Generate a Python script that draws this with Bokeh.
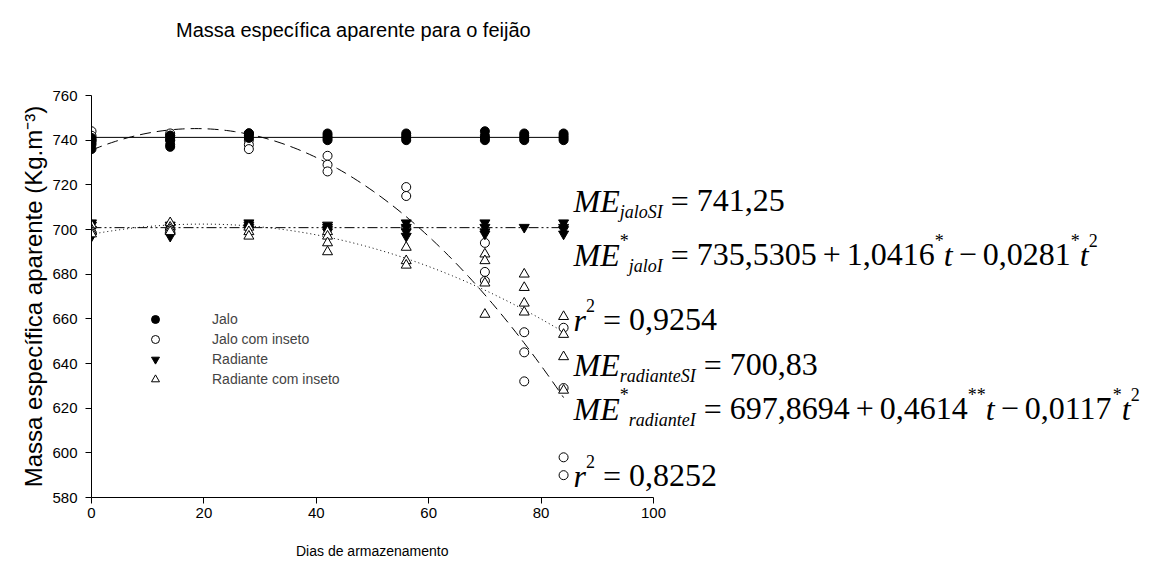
import numpy as np
from bokeh.plotting import figure
from bokeh.layouts import column
from bokeh.models import Range1d, FixedTicker, Legend, LegendItem, ColumnDataSource, Div
from bokeh.embed import file_html
from bokeh.resources import INLINE
from bokeh.core.properties import value

# ---------------- data ----------------
days = [0, 14, 28, 42, 56, 70, 77, 84]

jalo_vals = [[736, 738, 740, 741], [737, 738, 740, 742], [741, 742, 743, 743],
             [740, 741, 742, 743], [740, 741, 742, 743], [740, 741, 742, 744],
             [740, 741, 742, 743], [740, 741, 742, 743]]
jalo_ins_vals = [[744, 742, 740, 739], [743, 742, 741, 740], [743, 740, 738, 736],
                 [733, 729, 726], [719, 715, 701], [694, 681, 677],
                 [654, 645, 632], [656, 629, 598, 590]]
rad_vals = [[703, 702, 700, 697], [702, 701, 699, 697], [703, 702, 701, 700],
            [702, 701, 700, 699], [703, 701, 699, 697], [703, 701, 699, 698],
            [701], [703, 701, 700, 698]]
rad_ins_vals = [[702, 700, 699, 698], [703, 701, 700, 699], [701, 699, 697],
                [699, 697, 694, 690], [692, 686, 684], [689, 686, 676, 662],
                [680, 674, 667, 663], [661, 653, 643, 628]]

# fitted models (as printed on the chart)
jalo_mean = 741.25
jalo_ins_coef = [735.5305, 1.0416, -0.0281]
rad_mean = 700.83
rad_ins_coef = [697.8694, 0.4614, -0.0117]
fit_range = [0, 84]

x_ticks = [0, 20, 40, 60, 80, 100]
y_ticks = [580, 600, 620, 640, 660, 680, 700, 720, 740, 760]

title_text = "Massa específica aparente para o feijão"
x_label = "Dias de armazenamento"
y_label = "Massa específica aparente (Kg.m\u207b\u00b3)"
legend_labels = ["Jalo", "Jalo com inseto", "Radiante", "Radiante com inseto"]


def flat(vals):
    xs, ys = [], []
    for d, vs in zip(days, vals):
        for v in vs:
            xs.append(d)
            ys.append(v)
    return xs, ys


# ---------------- geometry ----------------
W = 1151
TOP_H, BOT_H = 50, 30
PH = 563 - TOP_H - BOT_H          # figure height
FL, FR = 91, 1150
FT, FB = 95 - TOP_H, 497 - TOP_H   # frame edges inside the figure
PXX = 562 / 100.0
x_end = (FR - FL) / PXX

p = figure(width=W, height=PH, x_range=Range1d(0, x_end), y_range=Range1d(580, 760),
           output_backend="svg", toolbar_location=None,
           min_border_left=FL, min_border_right=W - FR, min_border_top=FT,
           min_border_bottom=PH - FB)
p.outline_line_color = None
p.grid.visible = False
p.background_fill_color = "white"
p.border_fill_color = "white"

FONT = "'Liberation Sans', Arial, sans-serif"
title_div = Div(text=(f'<div style="margin-left:176px;margin-top:19px;font-family:{FONT};'
                      f'font-size:20px;line-height:22px;color:black;white-space:nowrap">{title_text}</div>'),
                width=W, height=TOP_H, margin=0)
xlabel_div = Div(text=(f'<div style="margin-left:296px;margin-top:10px;font-family:{FONT};'
                       f'font-size:14px;line-height:16px;color:black;white-space:nowrap">{x_label}</div>'),
                 width=W, height=BOT_H, margin=0)

for ax in (p.xaxis[0], p.yaxis[0]):
    ax.axis_line_color = "black"
    ax.major_tick_line_color = "black"
    ax.minor_tick_line_color = None
    ax.major_tick_in = 0
    ax.major_tick_out = 6
    ax.major_label_text_font = "Liberation Sans"
    ax.major_label_text_font_size = "15px"
    ax.major_label_text_color = "black"
    ax.axis_label_text_font = "Liberation Sans"
    ax.axis_label_text_font_style = "normal"
    ax.axis_label_text_color = "black"

p.xaxis.ticker = FixedTicker(ticks=x_ticks)
p.xaxis.bounds = (0, 100)
p.xaxis.major_label_standoff = 4

p.yaxis.ticker = FixedTicker(ticks=y_ticks)
p.yaxis.bounds = (580, 760)
p.yaxis.axis_label = y_label
p.yaxis.axis_label_text_font_size = "24px"
p.yaxis.major_label_standoff = 8
p.yaxis.axis_label_standoff = 2

# ---------------- fitted lines ----------------
t = np.linspace(fit_range[0], fit_range[1], 120)
p.line(fit_range, [jalo_mean, jalo_mean], line_color="black", line_width=1)
p.line(t, jalo_ins_coef[0] + jalo_ins_coef[1] * t + jalo_ins_coef[2] * t ** 2,
       line_color="black", line_width=1, line_dash="11 6")
p.line(fit_range, [rad_mean, rad_mean], line_color="black", line_width=1,
       line_dash="10 3 2 3 2 3")
p.line(t, rad_ins_coef[0] + rad_ins_coef[1] * t + rad_ins_coef[2] * t ** 2,
       line_color="black", line_width=1, line_dash="1 3")

# ---------------- points ----------------
xs, ys = flat(jalo_ins_vals)
r_ji = p.scatter(xs, ys, marker="circle", size=9, fill_color="white", line_color="black")
xs, ys = flat(jalo_vals)
r_j = p.scatter(xs, ys, marker="circle", size=9, fill_color="black", line_color="black")
xs, ys = flat(rad_vals)
r_r = p.scatter(xs, ys, marker="inverted_triangle", size=10, fill_color="black", line_color="black")
xs, ys = flat(rad_ins_vals)
r_ri = p.scatter(xs, ys, marker="triangle", size=10, fill_color="white", line_color="black")

legend = Legend(items=[LegendItem(label=legend_labels[0], renderers=[r_j]),
                       LegendItem(label=legend_labels[1], renderers=[r_ji]),
                       LegendItem(label=legend_labels[2], renderers=[r_r]),
                       LegendItem(label=legend_labels[3], renderers=[r_ri])],
                location=(54, 108), orientation="vertical")
legend.border_line_color = None
legend.background_fill_alpha = 0
legend.padding = 0
legend.margin = 0
legend.spacing = 0
legend.glyph_width = 20
legend.glyph_height = 20
legend.label_height = 20
legend.label_standoff = 47
legend.label_text_font = "Liberation Sans"
legend.label_text_font_size = "14px"
p.add_layout(legend, "center")

# ---------------- equations ----------------
RM = {c: 0.5 for c in "0123456789*"}
RM.update({",": 0.25, "=": 0.564, "+": 0.564, "\u2212": 0.564})
IT = {"M": 0.833, "E": 0.611, "r": 0.389, "t": 0.278, "j": 0.278, "a": 0.5, "l": 0.278,
      "o": 0.5, "S": 0.5, "I": 0.333, "d": 0.5, "i": 0.278, "n": 0.5, "e": 0.444}
BIG, SMALL = 32, 18
GAPS = {"gap": 8, "gap2": 6}


def dx(px):
    return (px - FL) / PXX


def dy(py):
    # py measured on the page (from the top of the window)
    return 580 + (497 - py) * 180.0 / (497 - 95)


rows = [
    [("ME", "it"), ("jaloSI", "sub"), ("", "gap"), ("=", "rm"), ("", "gap"), ("741,25", "rm")],
    [("ME", "it"), ("*", "sup"), ("jaloI", "sub"), ("", "gap"), ("=", "rm"), ("", "gap"),
     ("735,5305", "rm"), ("", "gap2"), ("+", "rm"), ("", "gap2"), ("1,0416", "rm"), ("*", "sup"),
     ("t", "it"), ("", "gap2"), ("\u2212", "rm"), ("", "gap2"), ("0,0281", "rm"), ("*", "sup"),
     ("t", "it"), ("2", "sup")],
    [("r", "it"), ("2", "sup"), ("", "gap"), ("=", "rm"), ("", "gap"), ("0,9254", "rm")],
    [("ME", "it"), ("radianteSI", "sub"), ("", "gap"), ("=", "rm"), ("", "gap"), ("700,83", "rm")],
    [("ME", "it"), ("*", "sup"), ("radianteI", "sub"), ("", "gap"), ("=", "rm"), ("", "gap"),
     ("697,8694", "rm"), ("", "gap2"), ("+", "rm"), ("", "gap2"), ("0,4614", "rm"), ("**", "sup"),
     ("t", "it"), ("", "gap2"), ("\u2212", "rm"), ("", "gap2"), ("0,0117", "rm"), ("*", "sup"),
     ("t", "it"), ("2", "sup")],
    [("r", "it"), ("2", "sup"), ("", "gap"), ("=", "rm"), ("", "gap"), ("0,8252", "rm")],
]
baselines = [200, 254, 319, 364, 408, 475]
start_x = 573

pieces = {k: dict(x=[], y=[], text=[]) for k in ("it", "rm", "sub", "sup")}
for segs, base in zip(rows, baselines):
    cx = start_x
    for txt, kind in segs:
        if kind in GAPS:
            cx += GAPS[kind]
            continue
        if kind == "it":
            w = sum(IT.get(c, 0.5) for c in txt) * BIG
            yy = base
        elif kind == "rm":
            w = sum(RM.get(c, 0.5) for c in txt) * BIG
            yy = base
        elif kind == "sub":
            w = sum(IT.get(c, 0.5) for c in txt) * SMALL
            yy = base + 11
        else:
            w = sum(RM.get(c, 0.5) for c in txt) * SMALL
            yy = base - 14
        pieces[kind]["x"].append(dx(cx))
        pieces[kind]["y"].append(dy(yy))
        pieces[kind]["text"].append(txt)
        cx += w

styles = {"it": ("italic", BIG), "rm": ("normal", BIG), "sub": ("italic", SMALL), "sup": ("normal", SMALL)}
for kind, d in pieces.items():
    st, sz = styles[kind]
    p.text(x="x", y="y", text="text", source=ColumnDataSource(d),
           text_font=value("Liberation Serif"), text_font_style=st,
           text_font_size=f"{sz}px", text_color="black",
           text_align="left", text_baseline="alphabetic")

layout = column(title_div, p, xlabel_div, spacing=0, margin=0)
open("out.html", "w").write(file_html(layout, INLINE))
